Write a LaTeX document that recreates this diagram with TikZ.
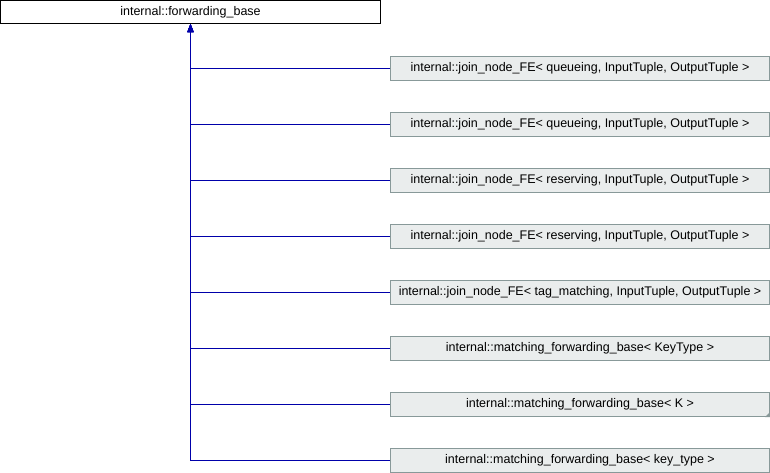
\documentclass[tikz,border=0pt]{standalone}
\usepackage{fontspec}
\setmainfont{Liberation Sans}
\usetikzlibrary{arrows.meta}
\definecolor{linkblue}{RGB}{0,0,170}
\definecolor{boxfill}{RGB}{234,237,237}
\definecolor{boxedge}{RGB}{136,153,153}
\tikzset{basebox/.style={draw=black, fill=white, line width=1pt, minimum width=380pt, minimum height=23pt, inner sep=0pt, font=\fontsize{12.5}{14}\selectfont},
         derivedbox/.style={draw=boxedge, fill=boxfill, line width=1pt, minimum width=379pt, minimum height=24pt, inner sep=0pt, font=\fontsize{12.5}{14}\selectfont},
         inherit/.style={color=linkblue, line width=1pt, -{Triangle[width=6pt,length=8pt]}},
        }

\begin{document}
\begin{tikzpicture}[x=1pt, y=-1pt]
        \useasboundingbox (0,0) rectangle (770,472);
        \node[basebox](fwd)at(190.5,12){internal::forwarding\_base};
        \node[derivedbox](jq1)at(580,68.5){internal::join\_node\_FE< queueing, InputTuple, OutputTuple >};
        \node[derivedbox](jq2)at(580,124.5){internal::join\_node\_FE< queueing, InputTuple, OutputTuple >};
        \node[derivedbox](jr1)at(580,180.5){internal::join\_node\_FE< reserving, InputTuple, OutputTuple >};
        \node[derivedbox](jr2)at(580,236.5){internal::join\_node\_FE< reserving, InputTuple, OutputTuple >};
        \node[derivedbox](jtm)at(580,292.5){internal::join\_node\_FE< tag\_matching, InputTuple, OutputTuple >};
        \node[derivedbox](mkt)at(580,348.5){internal::matching\_forwarding\_base< KeyType >};
        \node[derivedbox](mk)at(580,404.5){internal::matching\_forwarding\_base< K >};
        \node[derivedbox](mkey)at(580,460.5){internal::matching\_forwarding\_base< key\_type >};
        \fill[boxedge](mk.south east)--++(-5,0)--++(5,-5)--cycle;

        \foreach \c in {jq1,jq2,jr1,jr2,jtm,mkt,mk,mkey}
            \draw[inherit](\c.west)-|(fwd.south);
\end{tikzpicture}
\end{document}
